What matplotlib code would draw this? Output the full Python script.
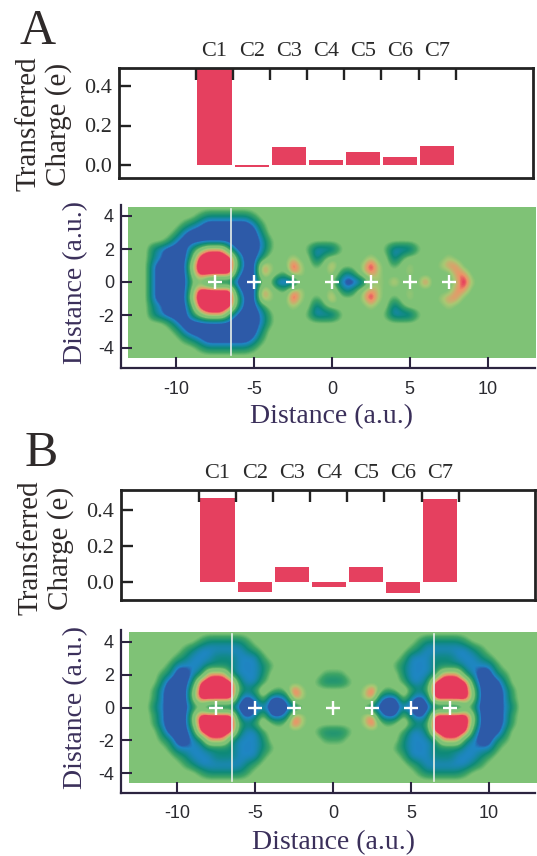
import matplotlib
matplotlib.use("Agg")
import matplotlib.pyplot as plt
from matplotlib.colors import LinearSegmentedColormap
from matplotlib.patches import Rectangle
import numpy as np

W, H = 537, 856

# transferred charge per carbon
carbons = ["C1", "C2", "C3", "C4", "C5", "C6", "C7"]
charge_a = [0.488, -0.01, 0.089, 0.024, 0.064, 0.038, 0.095]
charge_b = [0.465, -0.057, 0.082, -0.025, 0.082, -0.06, 0.46]

# atoms and cut planes on the maps
atoms_x = [-7.5, -5, -2.5, 0, 2.5, 5, 7.5]
cuts_a = [-6.5]
cuts_b = [-6.5, 6.5]

# density maps read off by eye, upper half only (y = 4.5 ... 0, step 0.5), x = -13 ... 13 step 0.5
# 0 dark blue, 1 blue, 2 teal, 3 dark green, 4 background, 5 pale, 6 orange, 7 red
map_a = [
    "",
    "444444444 3 222222 3",
    "4444444 321 000000 13",
    "444444 31 000000000 24",
    "44444 31 0000000000 13",
    "444 21 000 2 4666 2 000 13 4444 3 111 3 44444 3 111 3",
    "444 21 000 3 7 777 7 2 00 2 4 44544 1 3 44444544 1 3 44444 5",
    "444 1 0000 5 7 777 7 3 00 6 5 44 7 5 4 3 4 6 444 5 7 5 4 3 4 5 444 5 6 6 4",
    "444 1 0000 4 7 777 7 1 00 6 5 4 3 6 5 44 4 5 3 1 3 5 6 5 444 5 44444 6 6 4",
    "444 1 0000 3 4 2 111 000 3 4 000 4 4444 1 00 1 4 5 4 6 444 7 444 5 7 5",
]
# left half only, panel B is mirrored about x = 0
map_b = [
    "",
    "444444444 3 22222 3",
    "4444444 3 2 111111 2 3",
    "444444 3 2 111 222 11 1 3",
    "44444 3 1 111 2222 111 2 3",
    "4444 3 2 00 1 2 666 2 111 2 4 44444 4 33",
    "4444 2 000 2 7 777 7 2 11 3 4 44444 3 22",
    "444 3 1 000 4 7 777 7 3 2 3 5 4 3 4 7 5 4 444",
    "444 3 1 000 4 7 777 7 1 0 1 4 00 1 6 5 4444",
    "444 2 1 000 2 3 1111 000 1 000 1 3 4444",
]

map_stops = [(0.0, "#2d5aa8"), (0.7 / 7, "#2d5aa8"), (1.0 / 7, "#1f86c4"), (2.0 / 7, "#0e8a78"),
             (3.0 / 7, "#3fa565"), (3.6 / 7, "#7fc276"), (4.4 / 7, "#7fc276"), (5.0 / 7, "#a9c873"),
             (5.8 / 7, "#ec9468"), (6.2 / 7, "#e63a5c"), (1.0, "#e63a5c")]


def upper_to_grid(rows):
    half = np.array([[int(c) for c in r.replace(" ", "").ljust(53, "4")[:53]] for r in rows], dtype=float)
    return np.vstack([half, half[-2::-1]])


def mirrored(rows):
    full = []
    for r in rows:
        left = r.replace(" ", "").ljust(27, "4")[:27]
        full.append(left + left[-2::-1])
    return full


def px_axes(fig, left, top, right, bottom):
    return fig.add_axes([left / W, 1 - bottom / H, (right - left) / W, (bottom - top) / H])


def bar_panel(fig, box, x_tick0, y0, per_unit, values, ylab_x, ylab_y):
    left, top, right, bottom = box
    ax = px_axes(fig, *box)
    step = 37.1
    pos = np.arange(1, 8)
    ax.bar(pos, values, width=0.92, color="#e5405f", zorder=1)
    ax.set_xlim(0.5 + (left - x_tick0) / step, 0.5 + (right - x_tick0) / step)
    ax.set_ylim((y0 - bottom) / per_unit, (y0 - top) / per_unit)
    ax.set_xticks(np.arange(0.5, 8.5, 1))
    ax.set_xticklabels([])
    ax.tick_params(axis="x", which="major", direction="in", top=True, bottom=False,
                   length=8.5, width=1.7, color="#222222")
    ax.set_xticks(pos, carbons, minor=True)
    ax.tick_params(axis="x", which="minor", top=True, bottom=False, labeltop=True, labelbottom=False,
                   length=0, pad=5, labelsize=16, labelcolor="#2a2a2a")
    ax.set_yticks([0.0, 0.2, 0.4], ["0.0", "0.2", "0.4"])
    ax.tick_params(axis="y", direction="in", length=8.5, width=1.7, color="#222222",
                   pad=5, labelsize=16, labelcolor="#2a2a2a")
    for s in ax.spines.values():
        s.set_linewidth(2.0)
        s.set_color("#222222")
    fig.text(ylab_x / W, 1 - ylab_y / H, "Transferred\nCharge (e)", rotation=90, ha="center", va="center",
             fontsize=21, color="#2f2a2a", linespacing=1.15, multialignment="center")
    return ax


def map_panel(fig, box, x0, sx, y0, sy, grid, cuts, img_box, ylab_x, xlab_y):
    left, top, right, bottom = box
    ax = px_axes(fig, *box)
    cmap = LinearSegmentedColormap.from_list("dens", map_stops)
    im = ax.imshow(grid, extent=(-13.25, 13.25, -4.75, 4.75), origin="upper", aspect="auto",
                   cmap=cmap, vmin=0, vmax=7, interpolation="bicubic", zorder=1)
    ix0, iy0, ix1, iy1 = img_box
    im.set_clip_path(Rectangle((ix0, iy0), ix1 - ix0, iy1 - iy0, transform=ax.transData))
    ax.set_xlim((left - x0) / sx, (right - x0) / sx)
    ax.set_ylim((y0 - bottom) / sy, (y0 - top) / sy)
    for c in cuts:
        ax.plot([c, c], [-4.45, 4.45], color="#e8f0ea", lw=1.2, zorder=2)
    ax.plot(atoms_x, [0] * len(atoms_x), "+", color="white", ms=10, mew=1.7, zorder=3)
    ax.set_xticks([-10, -5, 0, 5, 10], ["-10", "-5", "0", "5", "10"])
    ax.set_yticks([-4, -2, 0, 2, 4], ["-4", "-2", "0", "2", "4"])
    ax.tick_params(axis="both", direction="in", length=8, width=1.5, color="#2c2440", labelcolor="#2a2a30",
                   labelsize=13, labelfontfamily="Liberation Sans")
    ax.tick_params(axis="x", pad=9)
    ax.tick_params(axis="y", pad=5)
    ax.spines["top"].set_visible(False)
    ax.spines["right"].set_visible(False)
    for s in ("left", "bottom"):
        ax.spines[s].set_linewidth(1.6)
        ax.spines[s].set_color("#2c2440")
    ax.patch.set_alpha(0)
    fig.text(ylab_x / W, 1 - y0 / H, "Distance (a.u.)", rotation=90, ha="center", va="center",
             fontsize=20, color="#3a2f5a")
    fig.text(x0 / W, 1 - xlab_y / H, "Distance (a.u.)", ha="center", va="center",
             fontsize=20, color="#3a2f5a")
    return ax


plt.rcParams["font.family"] = ["Liberation Serif", "DejaVu Serif"]
fig = plt.figure(figsize=(W / 100, H / 100), dpi=100)

fig.text(38 / W, 1 - 32 / H, "A", fontsize=36, ha="center", va="center", color="#2f2a2a")
fig.text(41 / W, 1 - 454 / H, "B", fontsize=36, ha="center", va="center", color="#2f2a2a")

bar_panel(fig, (119, 68, 533, 178), 196, 165, 197.5, charge_a, 44, 124)
map_panel(fig, (121, 205, 535, 368), 332, 15.55, 282, 16.5, upper_to_grid(map_a), cuts_a,
          (-13.1, -4.6, 13.1, 4.55), 76, 417)

bar_panel(fig, (121, 490, 535, 599.5), 199, 582, 180, charge_b, 46, 548)
map_panel(fig, (121, 630, 535, 793), 333, 15.6, 707.5, 16.45, upper_to_grid(mirrored(map_b)), cuts_b,
          (-13.1, -4.6, 13.1, 4.6), 76, 843)

fig.savefig("out.png", dpi=100)
